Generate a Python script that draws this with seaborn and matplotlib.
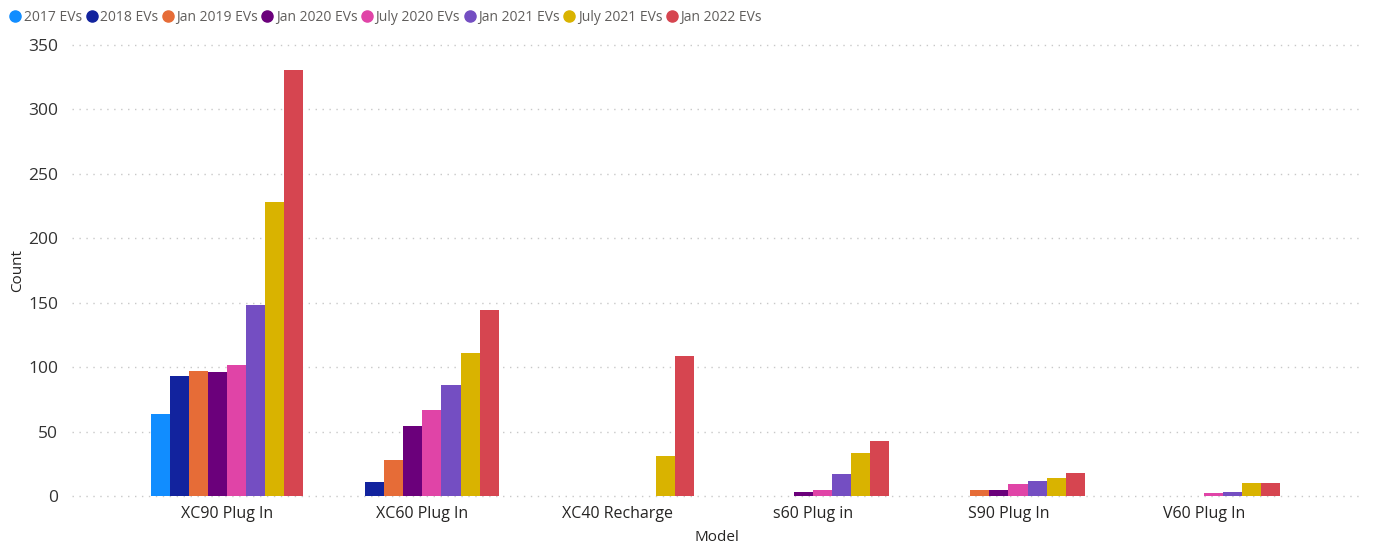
import numpy as np
import pandas as pd
import matplotlib
matplotlib.use("Agg")
import matplotlib.pyplot as plt
from matplotlib.lines import Line2D
import seaborn as sns

models = ["XC90 Plug In", "XC60 Plug In", "XC40 Recharge", "s60 Plug in", "S90 Plug In", "V60 Plug In"]
series = ["2017 EVs", "2018 EVs", "Jan 2019 EVs", "Jan 2020 EVs",
          "July 2020 EVs", "Jan 2021 EVs", "July 2021 EVs", "Jan 2022 EVs"]
colors = ["#118DFF", "#12239E", "#E66C37", "#6B007B",
          "#E044A7", "#744EC2", "#D9B300", "#D64550"]

# counts per series, one entry per model (None = no bar)
ev_2017 = [64, None, None, None, None, None]
ev_2018 = [93, 11, None, None, None, None]
ev_jan2019 = [97, 28, None, None, 5, None]
ev_jan2020 = [96, 54, None, 3, 5, None]
ev_jul2020 = [102, 67, None, 5, 9, 2]
ev_jan2021 = [148, 86, None, 17, 12, 3]
ev_jul2021 = [228, 111, 31, 33, 14, 10]
ev_jan2022 = [331, 144, 109, 43, 18, 10]

values = [ev_2017, ev_2018, ev_jan2019, ev_jan2020,
          ev_jul2020, ev_jan2021, ev_jul2021, ev_jan2022]

rows = []
for s, vals in zip(series, values):
    for m, v in zip(models, vals):
        if v is not None:
            rows.append({"Model": m, "Series": s, "Count": v})
df = pd.DataFrame(rows)

sns.set_style("white")
plt.rcParams["font.family"] = ["Open Sans", "DejaVu Sans"]

fig = plt.figure(figsize=(13.76, 5.44), dpi=100)
ax = fig.add_axes([0.0523, 0.0882, 0.937, 0.829])

sns.barplot(data=df, x="Model", y="Count", hue="Series", order=models,
            hue_order=series, palette=colors, width=0.78, saturation=1,
            errorbar=None, ax=ax, legend=False, linewidth=0, edgecolor="none")

ax.set_xlim(-0.794, 5.806)
ax.set_ylim(0, 350)
ax.set_yticks(np.arange(0, 351, 50))
ax.yaxis.grid(True, linestyle=(0, (1, 4)), color="#C8C8C8", linewidth=1)
ax.set_axisbelow(True)
for sp in ax.spines.values():
    sp.set_visible(False)
for gl in ax.get_ygridlines():
    gl.set_clip_on(False)

ax.tick_params(axis="both", length=0)
ax.tick_params(axis="y", labelsize=12.5, labelcolor="#333333", pad=10)
ax.tick_params(axis="x", labelsize=11.5, labelcolor="#252423", pad=7)
ax.set_xlabel("Model", fontsize=11, color="#252423", labelpad=6)
ax.set_ylabel("Count", fontsize=11, color="#252423")
ax.yaxis.set_label_coords(-0.036, 0.5)

handles = [Line2D([0], [0], marker="o", linestyle="", markersize=8,
                  markerfacecolor=c, markeredgecolor=c) for c in colors]
fig.legend(handles, series, loc="upper left", bbox_to_anchor=(-0.004, 1.005),
           ncol=8, frameon=False, fontsize=10, labelcolor="#605E5C",
           handletextpad=0.0, columnspacing=0.1, handlelength=1.2)

plt.savefig("out.png", dpi=100)
plt.close()
